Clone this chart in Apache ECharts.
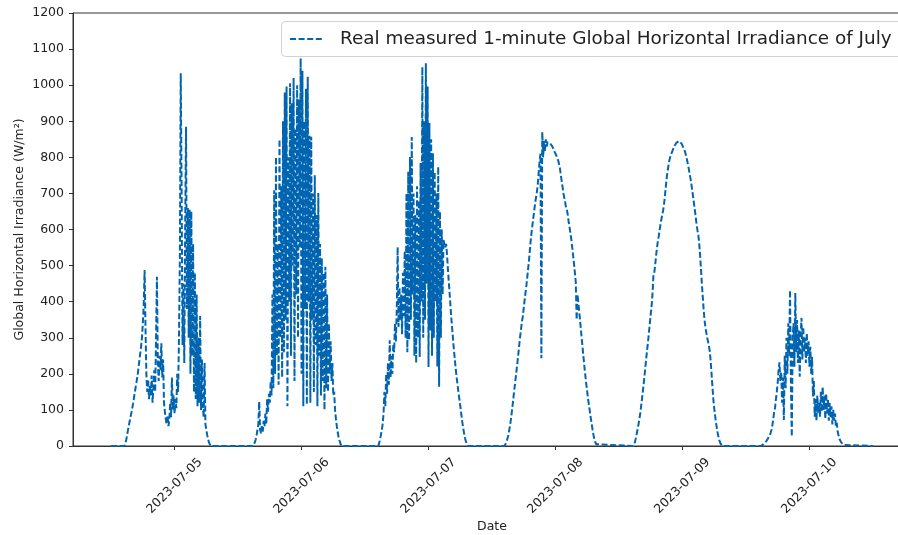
<!DOCTYPE html>
<html>
<head>
<meta charset="utf-8">
<title>GHI July 2023</title>
<script src="https://cdn.jsdelivr.net/npm/echarts@6/dist/echarts.min.js"></script>
<style>
  html, body { margin: 0; padding: 0; background: #fff; }
  #main { width: 898px; height: 535px; }
</style>
</head>
<body>
<div id="main"></div>
<script>
// one reading every 10 minutes
var STEP_MIN = 10;

// daylight start of each day (UTC), and the readings from there on
var dayStarts = [
  '2023-07-04T14:30', '2023-07-05T14:50', '2023-07-06T14:30',
  '2023-07-07T14:20', '2023-07-08T14:40', '2023-07-09T14:50'
];

var ghi0705 = [0, 5, 15, 28, 42, 55, 68, 80, 92, 105, 118, 135, 150, 165, 180, 195, 215, 235, 255, 275,
  300, 340, 390, 488, 330, 200, 150, 185, 130, 170, 140, 195, 120, 165, 210, 150, 300, 469, 230, 180,
  250, 210, 285, 190, 240, 120, 95, 75, 60, 85, 55, 70, 120, 80, 190, 100, 140, 90, 130, 105,
  200, 150, 300, 520, 1033, 700, 280, 450, 230, 600, 885, 380, 660, 300, 655, 200, 650, 250, 560, 150,
  480, 130, 420, 110, 300, 120, 360, 100, 240, 110, 80, 230, 60, 45, 30, 20, 10, 5, 0];

var ghi0706 = [0, 4, 10, 18, 30, 45, 60, 123, 45, 35, 55, 40, 70, 55, 90, 60, 130, 95, 145, 120,
  180, 140, 420, 160, 709, 200, 801, 250, 560, 170, 850, 300, 720, 190, 900, 260, 980, 350, 996, 110,
  800, 400, 1005, 250, 950, 500, 1020, 180, 880, 420, 1000, 300, 960, 550, 1074, 200, 1040, 110, 900, 380,
  990, 115, 1023, 400, 860, 120, 857, 350, 700, 150, 750, 280, 640, 110, 701, 250, 560, 140, 520, 180,
  480, 100, 497, 160, 420, 150, 340, 200, 290, 180, 230, 140, 150, 100, 75, 55, 38, 25, 15, 8, 0];

var ghi0707 = [0, 8, 18, 30, 45, 60, 90, 150, 110, 200, 145, 230, 170, 293, 190, 250, 200, 280, 260, 340,
  290, 380, 551, 330, 440, 350, 420, 310, 480, 360, 540, 300, 700, 260, 760, 293, 801, 350, 856, 420,
  700, 250, 640, 230, 720, 300, 680, 247, 784, 400, 1050, 300, 900, 350, 1061, 450, 996, 219, 895, 320,
  850, 250, 811, 300, 760, 400, 700, 220, 774, 164, 650, 300, 600, 420, 571, 560, 550, 560, 530, 490,
  455, 420, 385, 350, 320, 290, 262, 236, 210, 188, 168, 148, 130, 112, 92, 72, 55, 40, 27, 16,
  8, 3, 0];

var ghi0708 = [0, 2, 8, 16, 25, 35, 50, 66, 84, 105, 127, 150, 170, 192, 213, 235, 258, 282, 305, 325,
  345, 360, 382, 405, 425, 445, 468, 492, 515, 545, 572, 595, 615, 635, 655, 675, 690, 705, 728, 760,
  790, 810, 243, 870, 800, 845, 815, 850, 830, 842, 838, 840, 838, 836, 832, 828, 822, 815, 810, 805,
  800, 792, 782, 770, 752, 735, 718, 700, 688, 675, 660, 654, 640, 620, 605, 588, 572, 550, 528, 505,
  480, 455, 350, 420, 395, 370, 345, 318, 292, 265, 240, 215, 192, 170, 150, 130, 112, 95, 78, 62,
  46, 32, 20, 12, 5, 0];

var ghi0709 = [0, 3, 10, 20, 32, 45, 58, 72, 88, 108, 128, 150, 172, 195, 220, 245, 268, 290, 315, 340,
  365, 388, 420, 470, 480, 500, 525, 548, 565, 580, 597, 612, 627, 640, 652, 668, 690, 715, 740, 760,
  775, 790, 800, 808, 814, 820, 826, 832, 836, 840, 843, 845, 845, 844, 842, 838, 833, 827, 822, 815,
  805, 795, 783, 770, 757, 743, 728, 710, 692, 673, 655, 635, 615, 598, 585, 560, 530, 490, 450, 415,
  380, 350, 330, 315, 300, 290, 278, 262, 235, 200, 165, 130, 105, 85, 65, 50, 35, 24, 15, 8,
  3, 0];

var ghi0710 = [0, 1, 3, 5, 7, 10, 13, 17, 21, 25, 30, 36, 45, 58, 75, 95, 105, 130, 150, 175,
  210, 232, 180, 205, 120, 190, 72, 250, 160, 300, 200, 340, 250, 432, 180, 26, 300, 340, 220, 424,
  260, 349, 230, 320, 192, 300, 355, 240, 330, 260, 300, 230, 313, 250, 290, 220, 275, 200, 247, 137,
  180, 81, 130, 70, 140, 90, 120, 81, 150, 95, 164, 100, 140, 75, 146, 90, 130, 70, 119, 80,
  110, 60, 100, 70, 90, 55, 64, 40, 30, 20, 17, 10, 8, 5, 3, 1, 0];

var dayValues = [ghi0705, ghi0706, ghi0707, ghi0708, ghi0709, ghi0710];

var dataStart = '2023-07-04T12:00';
var dataEnd = '2023-07-10T12:00';
var tickDates = ['2023-07-05', '2023-07-06', '2023-07-07', '2023-07-08', '2023-07-09', '2023-07-10'];

function utc(s) { return Date.parse(s + (s.length > 10 ? ':00Z' : 'T00:00:00Z')); }

var series = [[utc(dataStart), 0]];
dayStarts.forEach(function (s, d) {
  var t0 = utc(s);
  dayValues[d].forEach(function (v, i) {
    series.push([t0 + i * STEP_MIN * 60000, v]);
  });
});
series.push([utc(dataEnd), 0]);

// matplotlib-like 5% margins on the time span
var span = utc(dataEnd) - utc(dataStart);
var xMin = utc(dataStart) - span * 0.05;
var xMax = utc(dataEnd) + span * 0.05;
var tickValues = tickDates.map(utc);

var FONT = 'DejaVu Sans';
var INK = '#222';
var BLUE = '#0064B0';
var NAME = 'Real measured 1-minute Global Horizontal Irradiance of July';

var chart = echarts.init(document.getElementById('main'), null, { renderer: 'canvas' });
chart.setOption({
  animation: false,
  grid: {
    left: 73, top: 13, bottom: 89, right: -13,
    outerBoundsMode: 'none',
    show: true, borderColor: '#333', borderWidth: 1
  },
  // legend frame runs off the right edge like the cropped original
  graphic: [{
    type: 'rect', left: 281, top: 21, z: 90,
    shape: { width: 640, height: 35, r: 4 },
    style: { fill: 'rgba(255,255,255,0.85)', stroke: '#d0d0d0', lineWidth: 1 }
  }],
  legend: {
    left: 281, top: 21, z: 100,
    padding: [9, 18, 9, 8],
    itemWidth: 34, itemHeight: 14,
    borderWidth: 0,
    itemStyle: { color: 'rgba(0,0,0,0)', borderColor: 'rgba(0,0,0,0)', borderWidth: 0 },
    textStyle: { fontFamily: FONT, fontSize: 18.4, color: INK, padding: [0, 0, 0, 11] },
    data: [NAME]
  },
  xAxis: {
    type: 'value',
    min: xMin, max: xMax,
    name: 'Date', nameLocation: 'middle', nameGap: 74, nameMoveOverlap: false,
    nameTextStyle: { fontFamily: FONT, fontSize: 12.5, color: INK },
    splitLine: { show: false },
    axisLine: { lineStyle: { color: '#333', width: 1 } },
    axisTick: { show: true, length: 4, customValues: tickValues, lineStyle: { color: '#333' } },
    axisLabel: {
      customValues: tickValues,
      rotate: 45, margin: 40, align: 'center', verticalAlign: 'middle',
      fontFamily: FONT, fontSize: 12.5, color: INK,
      formatter: function (v) { return new Date(v).toISOString().slice(0, 10); }
    }
  },
  yAxis: {
    type: 'value',
    min: 0, max: 1200, interval: 100,
    name: 'Global Horizontal Irradiance (W/m²)',
    nameLocation: 'middle', nameGap: 47, nameRotate: 90, nameMoveOverlap: false,
    nameTextStyle: { fontFamily: FONT, fontSize: 12.5, color: INK },
    splitLine: { show: false },
    axisLine: { show: true, lineStyle: { color: '#333', width: 1 } },
    axisTick: { show: true, length: 4, lineStyle: { color: '#333' } },
    axisLabel: {
      margin: 9, fontFamily: FONT, fontSize: 12.5, color: INK,
      formatter: function (v) { return String(v); }
    }
  },
  series: [{
    name: NAME,
    type: 'line',
    data: series,
    symbol: 'none',
    sampling: null,
    lineStyle: { color: BLUE, width: 2, type: [6, 2.6] },
    itemStyle: { color: BLUE }
  }]
});
</script>
</body>
</html>
